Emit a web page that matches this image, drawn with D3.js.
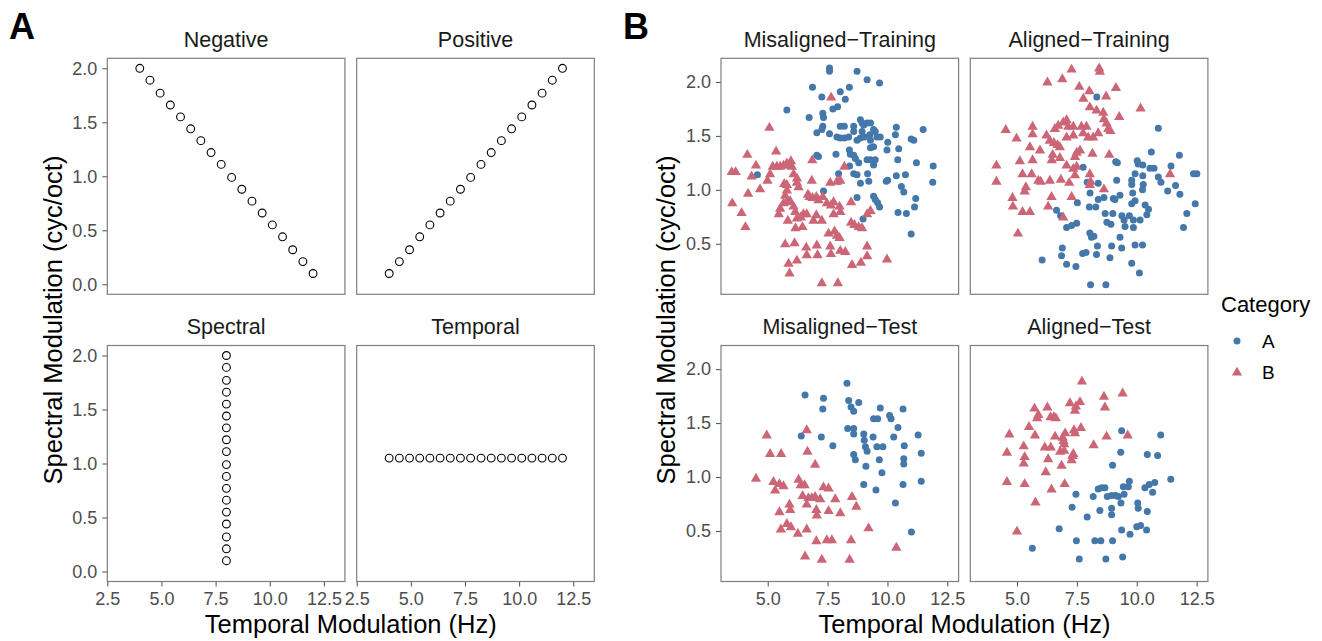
<!DOCTYPE html>
<html><head><meta charset="utf-8">
<script src="https://cdn.jsdelivr.net/npm/d3@7"></script>
<style>
body{margin:0;background:#fff;}
text{font-family:"Liberation Sans",Arial,Helvetica,sans-serif;}
</style></head>
<body><svg id="c" width="1322" height="641"></svg>
<script>
// ---------- Panel A data ----------
const panelATitles = ["Negative","Positive","Spectral","Temporal"];
const stimSteps = [4.00,4.47,4.94,5.41,5.88,6.35,6.82,7.29,7.76,8.24,8.71,9.18,9.65,10.12,10.59,11.06,11.53,12.00];
const stimLevels = [0.10,0.21,0.32,0.44,0.55,0.66,0.77,0.88,0.99,1.11,1.22,1.33,1.44,1.55,1.66,1.77,1.89,2.00];
const negativeX = [4.00,4.47,4.94,5.41,5.88,6.35,6.82,7.29,7.76,8.24,8.71,9.18,9.65,10.12,10.59,11.06,11.53,12.00];
const negativeY = [2.00,1.89,1.77,1.66,1.55,1.44,1.33,1.22,1.11,0.99,0.88,0.77,0.66,0.55,0.44,0.32,0.21,0.10];
const positiveX = stimSteps;
const positiveY = stimLevels;
const spectralX = [8,8,8,8,8,8,8,8,8,8,8,8,8,8,8,8,8,8];
const spectralY = stimLevels;
const temporalX = stimSteps;
const temporalY = [1.05,1.05,1.05,1.05,1.05,1.05,1.05,1.05,1.05,1.05,1.05,1.05,1.05,1.05,1.05,1.05,1.05,1.05];
const panelAXTicks = [2.5,5.0,7.5,10.0,12.5];
const panelAYTicks = [0.0,0.5,1.0,1.5,2.0];

// ---------- Panel B data ([temporal Hz, spectral cyc/oct]) ----------
const panelBTitles = ["Misaligned\u2212Training","Aligned\u2212Training","Misaligned\u2212Test","Aligned\u2212Test"];
const categories = ["A","B"];
const misTrainA = [[7.58,2.13],[7.58,2.10],[8.73,2.10],[9.15,2.02],[9.67,1.99],[6.87,1.95],[7.26,1.86],[8.03,1.91],[8.41,1.95],[8.24,1.84],
 [5.80,1.74],[7.72,1.75],[7.92,1.77],[7.30,1.71],[7.33,1.67],[6.73,1.67],[8.03,1.59],[8.20,1.59],[7.30,1.59],[7.26,1.56],
 [7.05,1.53],[7.58,1.52],[7.89,1.49],[8.03,1.48],[8.20,1.48],[8.38,1.49],[8.59,1.59],[8.59,1.54],[8.87,1.65],[8.94,1.62],
 [9.01,1.60],[9.15,1.62],[9.29,1.62],[9.42,1.56],[9.49,1.54],[9.56,1.49],[9.70,1.49],[8.94,1.54],[9.03,1.49],[9.26,1.51],
 [9.29,1.46],[9.42,1.40],[9.29,1.39],[8.73,1.46],[8.87,1.48],[10.37,1.58],[10.33,1.51],[10.99,1.47],[11.10,1.46],[11.49,1.56],
 [10.01,1.44],[9.98,1.37],[10.47,1.38],[10.43,1.28],[7.05,1.32],[7.12,1.31],[7.85,1.33],[8.41,1.37],[8.45,1.33],[8.59,1.32],
 [8.66,1.29],[9.15,1.28],[9.29,1.28],[9.49,1.28],[9.42,1.23],[8.80,1.25],[8.42,1.22],[8.59,1.15],[8.73,1.14],[7.96,1.15],
 [7.96,1.08],[9.17,1.15],[9.22,1.08],[10.01,1.09],[9.95,1.08],[10.37,1.13],[10.75,1.14],[11.21,1.25],[11.91,1.22],[11.89,1.07],
 [7.33,0.99],[8.87,1.06],[10.58,1.03],[10.68,0.98],[11.18,0.92],[9.42,0.94],[9.49,0.91],[9.59,0.88],[9.67,0.84],[8.73,0.93],
 [10.44,0.79],[10.79,0.78],[11.13,0.84],[8.98,0.73],[10.99,0.59],[4.57,1.14]];
const misTrainB = [[7.65,1.86],[5.07,1.58],[4.15,1.33],[4.51,1.23],[5.35,1.36],[3.50,1.17],[3.66,1.17],[4.33,1.13],[4.68,1.01],[4.99,1.09],
 [5.10,1.15],[5.21,1.22],[5.38,1.22],[5.52,1.22],[5.66,1.23],[5.80,1.25],[5.97,1.27],[5.91,1.23],[6.01,1.22],[6.86,1.28],
 [8.20,1.22],[6.08,1.15],[6.22,1.11],[6.22,1.07],[6.29,1.03],[5.69,1.06],[5.80,1.05],[5.80,1.00],[5.73,0.95],[6.84,1.09],
 [7.61,1.07],[7.89,1.08],[8.03,1.09],[3.52,0.88],[3.91,0.79],[4.07,0.66],[4.18,0.97],[5.52,0.83],[5.46,0.78],[5.66,0.88],
 [5.80,0.89],[5.94,0.90],[6.08,0.85],[6.15,0.80],[6.22,0.74],[6.38,0.75],[6.49,0.78],[6.68,0.96],[6.75,0.94],[6.87,0.93],
 [7.03,0.94],[7.12,0.91],[7.30,0.94],[7.47,0.88],[7.64,0.86],[7.75,0.89],[8.00,0.85],[8.48,0.89],[5.84,0.72],[6.16,0.65],
 [6.45,0.66],[6.63,0.78],[6.91,0.72],[7.03,0.77],[7.26,0.72],[7.75,0.78],[8.03,0.80],[8.48,0.70],[8.62,0.68],[8.80,0.66],
 [8.94,0.65],[9.15,0.78],[9.29,0.81],[5.73,0.50],[6.12,0.51],[6.61,0.47],[7.05,0.49],[7.54,0.60],[7.79,0.62],[7.89,0.58],
 [8.00,0.56],[7.61,0.48],[8.03,0.44],[8.24,0.43],[5.87,0.32],[6.22,0.35],[6.63,0.40],[7.08,0.40],[7.64,0.41],[8.52,0.31],
 [8.89,0.33],[9.15,0.39],[9.15,0.48],[9.98,0.36],[5.91,0.23],[7.26,0.14],[7.93,0.14]];
const alTrainA = [[8.33,1.86],[10.90,1.57],[10.61,1.35],[11.78,1.32],[7.76,1.21],[9.12,1.26],[9.19,1.25],[10.02,1.27],[10.06,1.24],[10.25,1.23],
 [10.55,1.20],[10.72,1.20],[11.43,1.22],[12.37,1.15],[12.51,1.15],[9.93,1.15],[9.79,1.09],[9.79,1.05],[10.25,1.13],[10.27,1.05],
 [10.90,1.12],[11.01,1.07],[11.29,0.99],[11.62,1.04],[11.80,0.96],[12.44,0.87],[12.09,0.78],[11.95,0.65],[9.16,1.09],[7.93,1.07],
 [8.39,1.06],[8.05,0.97],[8.39,0.91],[8.63,0.93],[9.02,0.92],[9.30,0.95],[9.09,0.91],[9.83,0.97],[9.93,0.90],[9.79,0.87],
 [10.24,1.00],[10.35,0.86],[10.49,0.82],[10.42,0.77],[10.14,0.72],[7.52,0.88],[8.02,0.84],[8.29,0.84],[8.68,0.78],[9.00,0.78],
 [9.38,0.76],[9.47,0.72],[9.69,0.76],[9.86,0.72],[8.75,0.70],[8.92,0.68],[9.51,0.66],[9.86,0.65],[6.65,0.81],[6.82,0.76],
 [7.07,0.65],[7.28,0.67],[7.49,0.69],[8.04,0.60],[8.11,0.56],[8.21,0.57],[9.30,0.56],[8.36,0.48],[8.95,0.48],[9.37,0.46],
 [9.93,0.49],[10.24,0.49],[6.89,0.46],[6.86,0.39],[7.74,0.41],[7.88,0.42],[8.32,0.40],[8.88,0.37],[9.79,0.32],[6.05,0.35],
 [7.07,0.31],[7.46,0.29],[10.11,0.23],[8.07,0.12],[8.71,0.12]];
const alTrainB = [[7.28,2.12],[8.43,2.13],[8.46,2.10],[6.27,2.00],[6.89,2.03],[7.60,1.96],[8.02,1.92],[8.72,1.87],[9.13,1.95],[7.77,1.85],
 [8.04,1.77],[8.32,1.74],[8.60,1.72],[8.63,1.66],[9.27,1.68],[10.16,1.76],[7.07,1.65],[6.93,1.63],[6.72,1.60],[6.58,1.57],
 [7.14,1.59],[7.35,1.59],[7.69,1.59],[7.90,1.59],[7.76,1.53],[7.97,1.49],[8.18,1.49],[8.74,1.62],[8.81,1.57],[8.90,1.55],
 [8.39,1.53],[4.53,1.56],[5.65,1.59],[5.65,1.52],[4.98,1.48],[6.23,1.51],[6.37,1.46],[6.54,1.44],[6.69,1.42],[6.79,1.40],
 [7.07,1.49],[7.35,1.51],[5.54,1.40],[5.96,1.37],[6.49,1.33],[6.79,1.30],[7.49,1.35],[7.42,1.31],[7.63,1.37],[8.15,1.34],
 [8.85,1.33],[5.12,1.27],[5.65,1.28],[6.45,1.28],[7.07,1.23],[7.35,1.20],[7.49,1.22],[4.14,1.23],[4.14,1.08],[5.23,1.15],
 [5.61,1.15],[5.89,1.09],[5.99,1.08],[5.37,1.03],[5.32,0.99],[6.37,1.09],[6.83,1.10],[7.18,1.07],[7.42,1.14],[8.04,1.15],
 [8.07,1.08],[8.04,1.05],[8.63,1.01],[11.39,1.15],[4.81,0.93],[4.83,0.85],[5.23,0.80],[5.54,0.80],[6.30,0.85],[6.44,0.94],
 [7.28,0.94],[6.93,0.75],[5.04,0.60]];
const misTestA = [[8.31,1.87],[6.56,1.76],[7.33,1.73],[7.30,1.63],[8.38,1.71],[8.80,1.69],[8.48,1.65],[8.59,1.61],[9.70,1.64],[10.09,1.57],
 [10.15,1.54],[10.65,1.63],[9.42,1.54],[9.59,1.54],[10.44,1.46],[8.34,1.45],[8.59,1.45],[8.59,1.40],[9.01,1.40],[9.40,1.37],
 [10.26,1.37],[11.28,1.39],[6.40,1.38],[7.24,1.37],[7.72,1.29],[9.03,1.34],[9.08,1.28],[9.15,1.24],[9.56,1.28],[9.81,1.28],
 [10.70,1.29],[11.41,1.22],[8.59,1.21],[8.66,1.16],[9.66,1.16],[10.68,1.17],[10.68,1.12],[9.10,1.10],[9.77,1.04],[9.01,0.93],
 [9.52,0.88],[10.65,0.93],[11.41,0.96],[10.33,0.76],[11.00,0.49]];
const misTestB = [[4.96,1.39],[6.63,1.44],[5.10,1.22],[5.56,1.22],[6.66,1.24],[6.98,1.12],[4.51,0.99],[5.24,0.96],[5.31,0.88],[5.49,0.94],
 [5.66,0.92],[6.29,0.98],[6.38,0.93],[6.54,0.93],[7.33,0.91],[7.54,0.90],[6.46,0.83],[6.70,0.81],[6.84,0.81],[6.98,0.82],
 [7.19,0.80],[7.82,0.80],[8.52,0.82],[6.63,0.75],[5.91,0.75],[5.94,0.70],[5.49,0.68],[7.03,0.70],[7.05,0.65],[7.54,0.69],
 [8.70,0.73],[8.03,0.67],[5.80,0.57],[5.97,0.54],[5.55,0.52],[6.26,0.48],[6.63,0.52],[7.03,0.41],[7.47,0.42],[7.68,0.42],
 [8.48,0.42],[9.21,0.53],[6.56,0.27],[7.26,0.24],[8.42,0.24],[10.37,0.35]];
const alTestA = [[9.37,1.43],[11.00,1.39],[9.33,1.23],[10.44,1.21],[10.87,1.20],[8.99,1.11],[11.42,0.98],[9.69,0.96],[9.44,0.91],[9.65,0.91],
 [10.34,0.90],[10.52,0.93],[10.75,0.95],[10.66,0.86],[8.39,0.89],[8.53,0.90],[8.67,0.90],[7.46,0.84],[8.18,0.82],[8.77,0.82],
 [8.95,0.83],[9.12,0.83],[9.23,0.82],[9.47,0.84],[9.34,0.76],[10.04,0.76],[10.06,0.71],[10.44,0.68],[7.30,0.72],[8.46,0.69],
 [8.95,0.71],[8.95,0.65],[7.93,0.63],[10.00,0.54],[10.16,0.55],[10.41,0.51],[9.37,0.51],[9.72,0.47],[6.76,0.52],[7.48,0.41],
 [8.25,0.41],[8.50,0.41],[8.99,0.41],[5.64,0.34],[7.60,0.24],[8.71,0.24],[9.41,0.26]];
const alTestB = [[7.71,1.89],[9.41,1.78],[8.63,1.75],[8.67,1.65],[7.21,1.69],[7.63,1.70],[7.46,1.66],[7.42,1.62],[6.27,1.65],[5.73,1.64],
 [5.89,1.58],[5.84,1.55],[6.40,1.56],[6.54,1.56],[6.62,1.55],[5.50,1.47],[4.68,1.40],[5.75,1.39],[6.59,1.38],[7.01,1.41],
 [6.91,1.37],[6.94,1.34],[6.97,1.31],[7.42,1.41],[7.38,1.44],[7.67,1.46],[8.74,1.38],[9.62,1.39],[5.28,1.29],[6.16,1.28],
 [6.41,1.28],[6.80,1.24],[6.97,1.25],[8.20,1.30],[4.58,1.23],[5.32,1.19],[5.28,1.13],[6.30,1.17],[7.32,1.20],[7.28,1.16],
 [7.35,1.22],[6.86,1.11],[6.20,1.05],[4.58,0.96],[5.32,0.94],[6.99,0.94],[6.44,0.89],[5.77,0.77],[5.00,0.50]];
const panelBXTicks = [5.0,7.5,10.0,12.5];
const panelBYTicks = [0.5,1.0,1.5,2.0];
const catColors = ["#4477AA","#CC6677"];

// ---------- layout ----------
const svg = d3.select("#c");
const PW = 237.6, PH = 236;
const rowTop = [58.3, 345.5];
const colA = [107.3, 356.7];
const colB = [721, 970.3];

const xA = d3.scaleLinear().domain([2.5, 13.47]).range([0, PW]);
const yA = d3.scaleLinear().domain([-0.0926, 2.0926]).range([PH, 0]);
const xB = d3.scaleLinear().domain([3.05, 12.97]).range([0, PW]);
const yB = d3.scaleLinear().domain([0.032, 2.219]).range([PH, 0]);

const tickColor = "#4d4d4d";
function styleAxis(g){
  g.attr("font-size", null).attr("font-family", null);
  g.select(".domain").remove();
  g.selectAll(".tick line").attr("stroke","#4d4d4d").attr("stroke-width",1);
  g.selectAll(".tick text").attr("fill",tickColor).style("font-size","18px")
    .style("font-family",'"Liberation Sans",Arial,sans-serif');
}

function panel(x0, y0, title, xs, ys, showX, showY, xTicks, yTicks){
  const g = svg.append("g").attr("transform",`translate(${x0},${y0})`);
  g.append("text").attr("x",PW/2).attr("y",-11.5).attr("text-anchor","middle")
    .style("font-size","21.5px").attr("fill","#1a1a1a").text(title);
  if(showX){
    const ax = g.append("g").attr("transform",`translate(0,${PH})`)
      .call(d3.axisBottom(xs).tickValues(xTicks).tickFormat(d3.format(".1f")).tickSize(5).tickPadding(6));
    styleAxis(ax);
  }
  if(showY){
    const ay = g.append("g")
      .call(d3.axisLeft(ys).tickValues(yTicks).tickFormat(d3.format(".1f")).tickSize(5).tickPadding(5));
    styleAxis(ay);
  }
  return g;
}
function frame(g){
  g.append("rect").attr("x",0).attr("y",0).attr("width",PW).attr("height",PH)
    .attr("fill","none").attr("stroke","#7f7f7f").attr("stroke-width",1.2);
}

// ---------- Panel A ----------
const aSeries = [[negativeX,negativeY],[positiveX,positiveY],[spectralX,spectralY],[temporalX,temporalY]];
aSeries.forEach((s,i)=>{
  const r = Math.floor(i/2), c = i%2;
  const g = panel(colA[c], rowTop[r], panelATitles[i], xA, yA, r===1, c===0, panelAXTicks, panelAYTicks);
  frame(g);
  g.selectAll("circle.pt").data(s[0].map((v,k)=>[v,s[1][k]])).join("circle")
    .attr("cx",d=>xA(d[0])).attr("cy",d=>yA(d[1])).attr("r",3.9)
    .attr("fill","none").attr("stroke","#000").attr("stroke-width",1.1);
});

// ---------- Panel B ----------
const bSeries = [[misTrainA,misTrainB],[alTrainA,alTrainB],[misTestA,misTestB],[alTestA,alTestB]];
const triangle = d3.symbol().type(d3.symbolTriangle).size(46);
bSeries.forEach((s,i)=>{
  const r = Math.floor(i/2), c = i%2;
  const g = panel(colB[c], rowTop[r], panelBTitles[i], xB, yB, r===1, c===0, panelBXTicks, panelBYTicks);
  const clip = "clipB"+i;
  g.append("clipPath").attr("id",clip).append("rect").attr("width",PW).attr("height",PH);
  const pg = g.append("g").attr("clip-path",`url(#${clip})`);
  pg.selectAll("circle").data(s[0]).join("circle")
    .attr("cx",d=>xB(d[0])).attr("cy",d=>yB(d[1])).attr("r",3.5).attr("fill",catColors[0]);
  pg.selectAll("path").data(s[1]).join("path")
    .attr("d",triangle).attr("transform",d=>`translate(${xB(d[0])},${yB(d[1])+0.6})`).attr("fill",catColors[1]);
  frame(g);
});

// ---------- axis titles ----------
function xTitle(cx){ svg.append("text").attr("x",cx).attr("y",632.5).attr("text-anchor","middle")
  .style("font-size","25.5px").attr("fill","#000").text("Temporal Modulation (Hz)"); }
function yTitle(cx){ svg.append("text").attr("transform",`translate(${cx},320) rotate(-90)`).attr("text-anchor","middle")
  .style("font-size","25.5px").attr("fill","#000").text("Spectral Modulation (cyc/oct)"); }
xTitle(colA[0] + (colA[1]+PW-colA[0])/2);
xTitle(colB[0] + (colB[1]+PW-colB[0])/2);
yTitle(61.5);
yTitle(675);

// ---------- panel letters ----------
svg.append("text").attr("x",9).attr("y",39).style("font-size","36px").style("font-weight","bold").text("A");
svg.append("text").attr("x",623).attr("y",39).style("font-size","36px").style("font-weight","bold").text("B");

// ---------- legend ----------
const lg = svg.append("g");
lg.append("text").attr("x",1221).attr("y",311.5).style("font-size","22px").attr("fill","#000").text("Category");
categories.forEach((c,i)=>{
  const y = 341 + i*31;
  if(i===0) lg.append("circle").attr("cx",1237).attr("cy",y).attr("r",3.5).attr("fill",catColors[0]);
  else lg.append("path").attr("d",triangle).attr("transform",`translate(1237,${y+0.6})`).attr("fill",catColors[1]);
  lg.append("text").attr("x",1262).attr("y",y+6.5).style("font-size","19px").attr("fill","#000").text(c);
});
</script></body></html>
